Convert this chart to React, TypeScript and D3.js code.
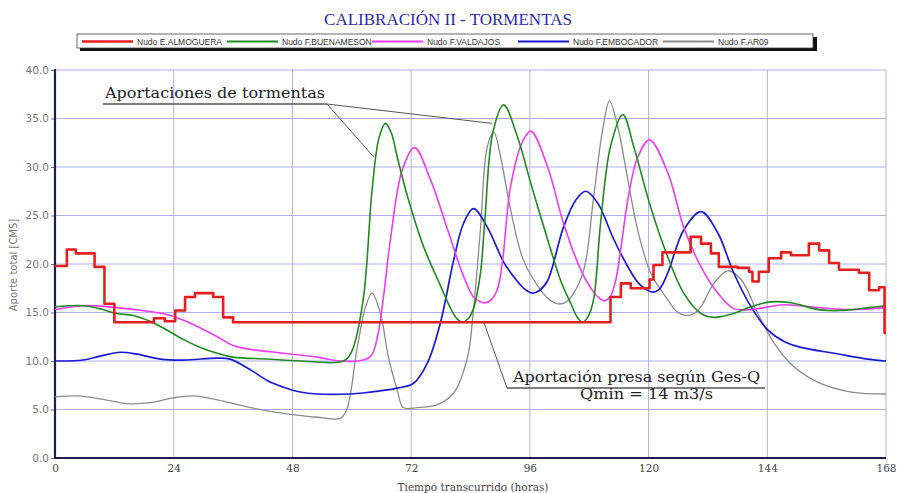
import React, { useEffect, useRef } from 'react';
import * as d3 from 'd3';

const WIDTH = 897;
const HEIGHT = 493;

const xTicks = [0, 24, 48, 72, 96, 120, 144, 168];
const yTicks = [0, 5, 10, 15, 20, 25, 30, 35, 40];

const seriesNames = ['Nudo E.ALMOGUERA', 'Nudo F.BUENAMESON', 'Nudo F.VALDAJOS', 'Nudo F.EMBOCADOR', 'Nudo F.AR09'];
const seriesColors = ['#e61e1e', '#1f8a1f', '#f03cf0', '#1a1ad2', '#8a8a8a'];
const seriesWidths = [2.6, 1.6, 1.6, 1.7, 1.3];

// [hora, aporte m3/s] - escalonado
const almoguera: [number, number][] = [
  [0, 19.8], [2.4, 21.5], [4.2, 21.1], [8, 19.7], [10, 15.9], [12, 14.0], [20, 14.4], [22.2, 14.1],
  [24.3, 15.2], [26.3, 16.6], [28.3, 17.0], [32, 16.6], [34, 14.5], [36, 14.0], [112.3, 16.6],
  [114.4, 18.0], [116.4, 17.5], [120.2, 18.4], [121, 19.9], [122.8, 21.2], [128.5, 22.8], [130.6, 22.1],
  [132.6, 21.1], [134.2, 19.7], [138, 19.6], [140.3, 19.2], [141, 18.2], [142.3, 19.2], [144.3, 20.6],
  [146.8, 21.2], [148.8, 20.9], [152.4, 22.1], [154.5, 21.4], [156.5, 20.1], [158.5, 19.4], [162.5, 19.1],
  [164.6, 17.3], [166.6, 17.6], [167.7, 12.9], [168, 12.9],
];

const buenameson: [number, number][] = [
  [0, 15.6], [5.7, 15.7], [9, 15.4], [12.5, 14.9], [15.8, 14.7], [19.2, 14.1], [22.6, 13.2], [26, 12.2],
  [29.4, 11.4], [32.8, 10.8], [36, 10.4], [42.9, 10.2], [49.6, 10.0], [58.3, 10.0], [60, 11.0], [62.3, 16.3],
  [64.1, 27.6], [65.5, 33.0], [66.8, 34.5], [68, 33.5], [69.2, 31.0], [71.3, 26.9], [74.5, 21.8], [77.9, 17.8],
  [80, 15.4], [81.2, 14.4], [82.4, 14.0], [83.6, 14.4], [84.6, 15.4], [86, 19.0], [86.9, 24.5], [88.5, 33.5],
  [90.7, 36.4], [93.5, 33.1], [96.2, 28.3], [99.6, 22.5], [102.3, 18.2], [104.3, 15.9], [105.6, 14.5],
  [106.7, 14.0], [107.8, 14.6], [108.9, 16.4], [110.3, 24.2], [112.3, 32.1], [114.8, 35.4], [117, 32.1],
  [120.4, 25.9], [123.9, 20.7], [127.1, 17.0], [130.6, 14.9], [133.2, 14.5], [137.2, 14.9], [140.7, 15.6],
  [144.7, 16.1], [148.8, 16.0], [154.3, 15.3], [158.9, 15.2], [164.4, 15.5], [168, 15.7],
];

const valdajos: [number, number][] = [
  [0, 15.3], [5.7, 15.7], [12.5, 15.5], [19.2, 15.1], [22.6, 14.8], [26, 14.2], [29.4, 13.4], [32.8, 12.5],
  [36, 11.6], [39.5, 11.2], [46.2, 10.8], [53, 10.4], [57.7, 10.0], [62.3, 10.1], [64, 10.6], [65.2, 12.5],
  [66.5, 17.0], [67.8, 22.5], [70.2, 29.7], [72.7, 32.0], [75.9, 28.7], [79.4, 23.5], [82.4, 19.0], [84.6, 16.6],
  [86, 16.1], [87, 16.0], [88.2, 16.3], [89.5, 17.5], [90.5, 20.4], [92.1, 28.0], [94.5, 32.6], [96.2, 33.7],
  [99.6, 30.0], [102.8, 24.2], [106.3, 19.4], [108.9, 17.1], [110, 16.5], [111, 16.2], [112.2, 16.6],
  [113.3, 18.2], [114.5, 22.0], [115.8, 26.6], [117.8, 31.0], [120.2, 32.8], [123.9, 29.4], [127.1, 23.8],
  [130.6, 19.7], [134, 17.0], [137.2, 15.4], [140.7, 15.3], [147.4, 15.8], [154.3, 15.5], [161, 15.3], [168, 15.5],
];

const embocador: [number, number][] = [
  [0, 10.0], [5.7, 10.1], [9.1, 10.5], [13.2, 10.9], [16.6, 10.7], [21.3, 10.2], [26, 10.1], [32.8, 10.3],
  [35.4, 10.2], [39.5, 9.1], [42.9, 8.0], [46.2, 7.3], [49.6, 6.8], [53, 6.6], [59.7, 6.6], [62.3, 6.7],
  [69.2, 7.2], [72.5, 7.7], [75.3, 9.8], [77.9, 13.9], [80.6, 20.4], [82.6, 24.2], [84.6, 25.7], [87.4, 23.8],
  [90.7, 20.2], [93.5, 18.2], [95, 17.4], [96.5, 17.0], [98, 17.3], [99.6, 18.3], [102.8, 23.8], [105.3, 26.6],
  [107.3, 27.5], [109.7, 26.3], [113, 22.5], [116.4, 19.2], [118, 18.0], [119.8, 17.3], [121, 17.1],
  [122.2, 17.4], [123.9, 19.1], [127.1, 23.5], [130.6, 25.4], [134, 23.2], [137.2, 19.1], [140.7, 15.6],
  [144.1, 13.2], [147.4, 12.0], [150.8, 11.4], [157.5, 10.8], [164.4, 10.2], [168, 10.0],
];

const ar09: [number, number][] = [
  [0, 6.3], [4.4, 6.4], [9.1, 6.1], [14.6, 5.6], [19.2, 5.7], [23.9, 6.2], [27.9, 6.4], [32.8, 6.0],
  [39.5, 5.2], [46.2, 4.6], [53, 4.2], [57.7, 4.1], [59, 5.0], [61.1, 11.4], [62.8, 15.6], [64.1, 17.0],
  [65.8, 14.9], [67.4, 10.4], [69.2, 7.0], [70.4, 5.2], [73.3, 5.2], [77.3, 5.5], [80.6, 6.7], [83.4, 10.4],
  [84.6, 15.3], [86, 23.5], [87.4, 32.1], [88.7, 33.6], [90.1, 31.0], [92.1, 25.6], [94.7, 20.4], [98.2, 17.3],
  [100, 16.3], [101.6, 15.9], [103, 16.0], [104.6, 16.8], [106.9, 19.4], [108.9, 26.9], [110.7, 33.8],
  [112.1, 36.8], [113.8, 34.1], [115.8, 28.7], [117.8, 23.5], [120.4, 19.1], [123.9, 16.3], [125.7, 15.1],
  [127.5, 14.7], [129.2, 14.9], [130.6, 15.6], [133.2, 18.0], [136, 19.3], [138.7, 18.4], [142.1, 14.9],
  [145.3, 11.9], [149.4, 9.4], [154.3, 7.8], [161, 6.8], [168, 6.6],
];

const series = [almoguera, buenameson, valdajos, embocador, ar09];

// anotaciones: [hora, aporte] de los extremos de las guias
const stormLabel = 'Aportaciones de tormentas';
const stormTargets: [number, number][] = [[64.5, 31.0], [88.3, 34.5]];
const presaLabel = 'Aportación presa según Ges-Q';
const presaLabel2 = 'Qmin = 14 m3/s';
const presaTarget: [number, number] = [86.7, 14.0];

const Chart = () => {
  const svgRef = useRef<SVGSVGElement>(null);

  useEffect(() => {
    const svg = d3.select(svgRef.current);
    svg.selectAll('*').remove();

    const margin = { top: 70, right: 11, bottom: 35, left: 55 };
    const x = d3.scaleLinear().domain([0, 168]).range([margin.left, WIDTH - margin.right]);
    const y = d3.scaleLinear().domain([0, 40]).range([HEIGHT - margin.bottom, margin.top]);

    svg.append('rect').attr('width', WIDTH).attr('height', HEIGHT).attr('fill', '#fff');

    // Title
    svg.append('text')
      .attr('x', 448).attr('y', 25)
      .attr('text-anchor', 'middle')
      .attr('font-family', '"Liberation Serif", serif')
      .attr('font-size', 17)
      .attr('fill', '#2b2bb0')
      .text('CALIBRACIÓN II - TORMENTAS');

    // Legend box with shadow
    svg.append('rect').attr('x', 80).attr('y', 37).attr('width', 737).attr('height', 14).attr('fill', '#111');
    svg.append('rect').attr('x', 77).attr('y', 34).attr('width', 736).attr('height', 14)
      .attr('fill', '#fff').attr('stroke', '#444').attr('stroke-width', 0.8);
    const legendX = [82, 227, 372, 518, 663];
    seriesNames.forEach((name, i) => {
      svg.append('line')
        .attr('x1', legendX[i]).attr('x2', legendX[i] + 51)
        .attr('y1', 41.5).attr('y2', 41.5)
        .attr('stroke', seriesColors[i]).attr('stroke-width', i === 0 ? 2.5 : 2);
      svg.append('text')
        .attr('x', legendX[i] + 55).attr('y', 44.5)
        .attr('font-family', '"Liberation Sans Narrow", "Liberation Sans", sans-serif')
        .attr('font-size', 8.5)
        .attr('fill', '#333')
        .text(name);
    });

    // Grid
    const grid = svg.append('g').attr('stroke', '#aeaef2').attr('stroke-width', 1);
    yTicks.forEach(t => {
      grid.append('line').attr('x1', x(0)).attr('x2', x(168)).attr('y1', y(t)).attr('y2', y(t));
    });
    xTicks.forEach(t => {
      grid.append('line').attr('x1', x(t)).attr('x2', x(t)).attr('y1', y(0)).attr('y2', y(40));
    });

    // Axes
    const yAxis = d3.axisLeft(y).tickValues(yTicks).tickFormat(d3.format('.1f')).tickSize(4).tickPadding(2);
    const gy = svg.append('g').attr('transform', `translate(${margin.left},0)`).call(yAxis);
    gy.select('.domain').remove();
    gy.selectAll('line').attr('stroke', '#777');
    gy.selectAll('text')
      .attr('font-family', '"DejaVu Sans", sans-serif')
      .attr('font-size', 10.5)
      .attr('fill', '#777');

    const xAxis = d3.axisBottom(x).tickValues(xTicks).tickFormat(d3.format('d')).tickSize(0).tickPadding(7);
    const gx = svg.append('g').attr('transform', `translate(0,${HEIGHT - margin.bottom})`).call(xAxis);
    gx.select('.domain').remove();
    gx.selectAll('text')
      .attr('font-family', '"DejaVu Serif", serif')
      .attr('font-size', 10.5)
      .attr('fill', '#444');

    svg.append('line').attr('x1', x(0)).attr('x2', x(0)).attr('y1', y(40) - 1).attr('y2', y(0) + 1)
      .attr('stroke', '#1c1c50').attr('stroke-width', 2.2);
    svg.append('line').attr('x1', x(0)).attr('x2', x(168)).attr('y1', y(0)).attr('y2', y(0))
      .attr('stroke', '#1c1c50').attr('stroke-width', 2.2);

    svg.append('text')
      .attr('x', 473).attr('y', 491)
      .attr('text-anchor', 'middle')
      .attr('font-family', '"DejaVu Serif", serif')
      .attr('font-size', 10.5)
      .attr('fill', '#444')
      .text('Tiempo transcurrido (horas)');

    svg.append('text')
      .attr('transform', 'translate(17,265) rotate(-90)')
      .attr('text-anchor', 'middle')
      .attr('font-family', '"DejaVu Sans", sans-serif')
      .attr('font-size', 10)
      .attr('fill', '#777')
      .text('Aporte total [CMS]');

    // Series (draw gray first, red last)
    const smooth = d3.line<[number, number]>().x(d => x(d[0])).y(d => y(d[1])).curve(d3.curveCatmullRom.alpha(0.5));
    const step = d3.line<[number, number]>().x(d => x(d[0])).y(d => y(d[1])).curve(d3.curveStepAfter);
    [4, 3, 2, 1, 0].forEach(i => {
      svg.append('path')
        .datum(series[i])
        .attr('fill', 'none')
        .attr('stroke', seriesColors[i])
        .attr('stroke-width', seriesWidths[i])
        .attr('stroke-linejoin', 'round')
        .attr('d', i === 0 ? step : smooth);
    });

    // Annotation: storms
    const ann = svg.append('g').attr('stroke', '#555').attr('stroke-width', 1).attr('fill', 'none');
    ann.append('line').attr('x1', 103).attr('x2', 327).attr('y1', 104).attr('y2', 104).attr('stroke-width', 1.6);
    stormTargets.forEach(t => {
      ann.append('line').attr('x1', 327).attr('y1', 104).attr('x2', x(t[0])).attr('y2', y(t[1]));
    });
    svg.append('text')
      .attr('x', 105).attr('y', 98)
      .attr('font-family', '"DejaVu Serif", serif')
      .attr('font-size', 15)
      .attr('textLength', 220)
      .attr('lengthAdjust', 'spacingAndGlyphs')
      .attr('fill', '#222')
      .text(stormLabel);

    // Annotation: presa
    ann.append('line').attr('x1', x(presaTarget[0])).attr('y1', y(presaTarget[1])).attr('x2', 507).attr('y2', 388);
    ann.append('line').attr('x1', 507).attr('x2', 765).attr('y1', 388).attr('y2', 388).attr('stroke-width', 1.6);
    svg.append('text')
      .attr('x', 513).attr('y', 382)
      .attr('font-family', '"DejaVu Serif", serif')
      .attr('font-size', 15)
      .attr('textLength', 247)
      .attr('lengthAdjust', 'spacingAndGlyphs')
      .attr('fill', '#222')
      .text(presaLabel);
    svg.append('text')
      .attr('x', 580).attr('y', 399)
      .attr('font-family', '"DejaVu Serif", serif')
      .attr('font-size', 15)
      .attr('textLength', 133)
      .attr('lengthAdjust', 'spacingAndGlyphs')
      .attr('fill', '#222')
      .text(presaLabel2);
  }, []);

  return <svg ref={svgRef} width={WIDTH} height={HEIGHT} style={{ position: 'absolute', left: 0, top: 0 }} />;
};

export default function App() {
  return <Chart />;
}
